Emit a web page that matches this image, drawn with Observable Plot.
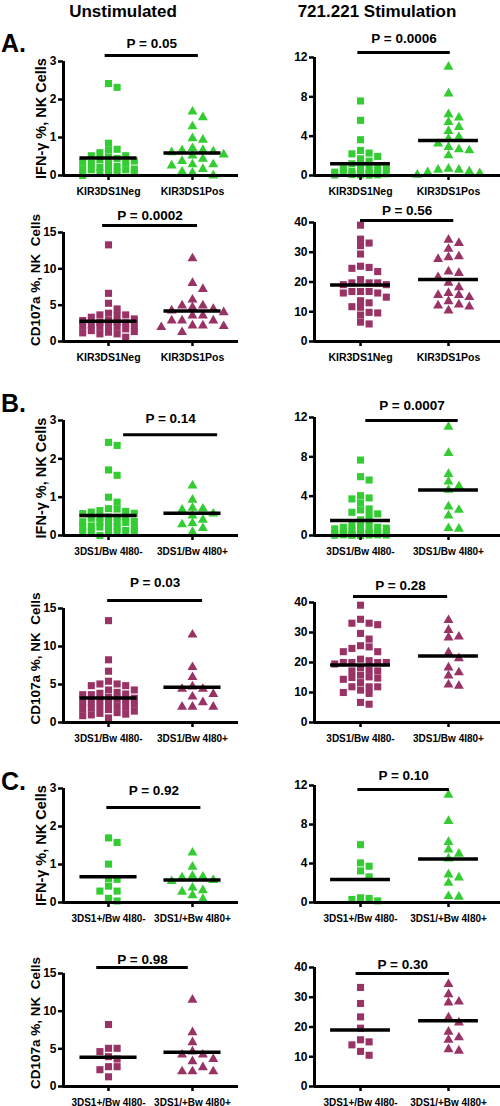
<!DOCTYPE html>
<html>
<head>
<meta charset="utf-8">
<script src="https://cdn.jsdelivr.net/npm/d3@7"></script>
<script src="https://cdn.jsdelivr.net/npm/@observablehq/plot@0.6"></script>
<style>
  html, body { margin: 0; padding: 0; background: white; width: 500px; height: 1106px; overflow: hidden; }
  body { position: relative; font-family: "Liberation Sans", Arial, sans-serif; font-weight: bold; }
  .abs { position: absolute; }
  .hdr { font-size: 17px; line-height: 1; white-space: nowrap; transform: translateX(-50%); }
  .let { font-size: 25px; line-height: 1; }
</style>
</head>
<body>
<div id="root"></div>
<script>
// ---------- data ----------
const columnTitles = ["Unstimulated", "721.221 Stimulation"];
const sectionLetters = ["A.", "B.", "C."];
const labelsA = ["KIR3DS1Neg", "KIR3DS1Pos"];
const labelsB = ["3DS1/Bw 4I80-", "3DS1/Bw 4I80+"];
const labelsC = ["3DS1+/Bw 4I80-", "3DS1/+Bw 4I80+"];
const titleIFN = "IFN-\u03b3 %, NK Cells";
const titleCD = "CD107a %, NK  Cells";
const ticksIFNunstim = [0, 1, 2, 3];
const ticksIFN721 = [0, 4, 8, 12];
const ticksCDunstim = [0, 5, 10, 15];
const ticksCD721 = [0, 10, 20, 30, 40];

// A
const ifnUnstimNegA = [2.42, 2.32, 0.85, 0.69, 0.67, 0.60, 0.52, 0.52, 0.48, 0.45, 0.42, 0.38, 0.35, 0.33, 0.32, 0.31, 0.24, 0.22, 0.17, 0.17, 0.15, 0.15, 0.13, 0.09, 0.07, 0.06, 0.0];
const ifnUnstimPosA = [1.68, 1.53, 1.29, 0.98, 0.94, 0.72, 0.67, 0.66, 0.63, 0.61, 0.55, 0.52, 0.44, 0.38, 0.29, 0.29, 0.26, 0.17, 0.10, 0.07, 0.0];
const ifn721NegA = [7.58, 5.61, 3.64, 2.55, 2.28, 2.2, 1.94, 1.7, 1.46, 1.19, 0.92, 0.92, 0.75, 0.68, 0.68, 0.41, 0.34, 0.34, 0.34, 0.24, 0.24, 0.17, 0.10, 0.07, 0.07, 0.05, 0.03];
const ifn721PosA = [11.05, 8.33, 6.22, 5.88, 5.44, 4.93, 4.52, 3.91, 3.74, 3.23, 2.89, 2.65, 2.55, 2.04, 0.68, 0.58, 0.58, 0.41, 0.34, 0.24, 0.07];
const cdUnstimNegA = [13.3, 6.63, 5.26, 4.48, 3.89, 3.66, 3.66, 3.57, 3.34, 3.11, 2.88, 2.88, 2.65, 2.65, 2.56, 2.29, 2.19, 2.10, 2.10, 1.97, 1.97, 1.74, 1.50, 1.37, 1.28, 1.19, 1.05, 1.05, 0.59];
const cdUnstimPosA = [11.43, 8.05, 7.22, 5.76, 4.94, 4.94, 4.71, 4.48, 4.25, 4.02, 3.57, 3.57, 2.88, 2.88, 2.88, 2.19, 2.19, 2.10, 1.97, 1.28];
const cd721NegA = [39.1, 34.4, 33.1, 32.2, 29.4, 25.3, 24.9, 24.6, 23.5, 20.8, 19.7, 19.7, 19.7, 19.1, 19.1, 16.8, 16.8, 16.8, 16.3, 16.3, 14.9, 13.7, 13.0, 11.7, 11.5, 9.8, 9.6, 8.9, 6.5, 5.9];
const cd721PosA = [34.2, 33.1, 31.1, 28.6, 28.3, 27.7, 23.5, 23.0, 21.6, 19.7, 18.2, 16.3, 15.6, 15.6, 14.9, 13.5, 12.4, 12.1, 11.7, 10.4];
// B
const ifnUnstimNegB = [2.43, 2.35, 1.71, 1.57, 1.00, 0.87, 0.70, 0.69, 0.65, 0.63, 0.61, 0.58, 0.57, 0.48, 0.47, 0.46, 0.46, 0.45, 0.37, 0.36, 0.36, 0.35, 0.35, 0.34, 0.25, 0.24, 0.24, 0.23, 0.23, 0.22, 0.13, 0.12, 0.12, 0.11, 0.11, 0.10, 0.0];
const ifnUnstimPosB = [1.30, 0.93, 0.72, 0.70, 0.67, 0.57, 0.52, 0.41, 0.32, 0.29, 0.19, 0.09];
const ifn721NegB = [7.67, 5.98, 5.64, 4.05, 3.82, 3.72, 3.31, 2.70, 2.60, 2.36, 2.20, 2.03, 1.59, 1.35, 1.0, 0.91, 0.84, 0.84, 0.74, 0.68, 0.68, 0.44, 0.41, 0.34, 0.34, 0.34, 0.24, 0.17, 0.10, 0.07, 0.07, 0.07, 0.05, 0.05, 0.03, 0.02, 0.0];
const ifn721PosB = [11.05, 8.38, 6.25, 5.47, 5.0, 4.63, 2.94, 2.6, 2.03, 0.74, 0.68];
const cdUnstimNegB = [13.4, 8.25, 6.75, 5.43, 5.07, 5.07, 4.85, 4.85, 4.28, 4.28, 3.97, 3.84, 3.75, 3.66, 3.66, 3.3, 3.2, 3.1, 3.0, 2.9, 2.7, 2.6, 2.5, 2.4, 2.2, 2.1, 2.0, 1.9, 1.8, 1.7, 1.5, 1.3, 1.2, 1.1, 1.0, 0.9, 0.6];
const cdUnstimPosB = [11.56, 7.28, 5.96, 4.72, 4.41, 4.41, 3.75, 3.40, 2.65, 2.07, 2.07, 2.07];
const cd721NegB = [39.1, 34.4, 33.1, 33.1, 32.6, 29.7, 27.8, 25.6, 25.2, 24.7, 23.6, 23.6, 21.1, 20.6, 20.0, 20.0, 20.0, 20.0, 19.5, 18.3, 17.4, 17.2, 17.2, 15.8, 15.2, 15.0, 14.8, 14.4, 13.3, 11.9, 11.9, 11.9, 10.8, 10.0, 9.7, 6.7, 6.1];
const cd721PosB = [34.1, 30.8, 28.6, 28.3, 23.3, 21.4, 18.3, 16.7, 15.6, 12.6, 12.2];
// C
const ifnUnstimNegC = [1.70, 1.58, 1.01, 0.63, 0.61, 0.43, 0.30, 0.30, 0.11, 0.04];
const ifnUnstimPosC = [1.31, 0.94, 0.70, 0.68, 0.66, 0.59, 0.56, 0.39, 0.32, 0.28, 0.19, 0.09];
const ifn721NegC = [5.93, 4.06, 3.72, 3.24, 2.63, 0.48, 0.41, 0.31, 0.17];
const ifn721PosC = [11.05, 8.35, 6.2, 5.42, 5.0, 4.5, 2.86, 2.56, 2.01, 0.65, 0.58];
const cdUnstimNegC = [8.23, 5.07, 5.07, 4.63, 3.96, 3.65, 2.63, 2.63, 2.23, 1.29];
const cdUnstimPosC = [11.5, 7.2, 5.87, 4.63, 4.23, 4.23, 3.65, 3.34, 2.54, 2.0, 2.0, 2.0];
const cd721NegC = [33.3, 27.9, 23.4, 19.6, 15.7, 15.0, 14.0, 11.8, 10.5];
const cd721PosC = [34.4, 31.0, 28.5, 28.2, 23.2, 21.5, 18.4, 16.5, 15.7, 12.5, 12.0];

// per-panel statistics (panel order: A-left-top, A-right-top, A-left-bottom, ... C-right-bottom)
const meanNeg = [0.46, 1.19, 2.79, 19.0, 0.52, 1.52, 3.22, 19.2, 0.68, 2.35, 3.87, 19.0];
const meanPos = [0.59, 3.57, 4.21, 20.8, 0.58, 4.63, 4.63, 22.2, 0.59, 4.47, 4.54, 22.1];
const pValues = ["P = 0.05", "P = 0.0006", "P = 0.0002", "P = 0.56", "P = 0.14", "P = 0.0007", "P = 0.03", "P = 0.28", "P = 0.92", "P = 0.10", "P = 0.98", "P = 0.30"];
const barY = [3.16, 12.5, 15.96, 40.7, 2.63, 11.7, 16.05, 42, 2.5, 11.6, 15.8, 38];
const barX1 = [-0.04, -0.03, -0.07, 0.0, 0.18, 0.06, -0.01, -0.08, -0.02, -0.03, -0.14, -0.05];
const barX2 = [1.07, 1.02, 1.06, 1.06, 1.30, 1.11, 1.12, 0.99, 1.10, 1.01, 0.95, 1.01];
const pLabelY = [3.46, 13.9, 17.3, 44.0, 3.05, 13.2, 18.4, 45.7, 2.95, 13.0, 16.9, 41.0];

// ---------- layout ----------
const GREEN = "#33cc33", PURPLE = "#993366";
const rows = [
  {top: 28, height: 172, mB: 25, mT: [33, 29]},
  {top: 200, height: 175, mB: 34, mT: [32, 22]},
  {top: 388, height: 172, mB: 25, mT: [32, 29]},
  {top: 566, height: 184, mB: 28, mT: [42, 36]},
  {top: 762, height: 168, mB: 28, mT: [26, 23]},
  {top: 935, height: 171, mB: 20, mT: [38, 32]}
];
const cols = [
  {left: 0, mL: 63, mR: 12, xMin: -0.536, xMax: 1.548},
  {left: 250, mL: 64, mR: 0, xMin: -0.523, xMax: 1.591}
];

const panels = [
  {neg: ifnUnstimNegA, pos: ifnUnstimPosA, labels: labelsA, ticks: ticksIFNunstim, title: titleIFN, color: GREEN, lfs: 10.5},
  {neg: ifn721NegA, pos: ifn721PosA, labels: labelsA, ticks: ticksIFN721, title: null, color: GREEN, lfs: 10.5},
  {neg: cdUnstimNegA, pos: cdUnstimPosA, labels: labelsA, ticks: ticksCDunstim, title: titleCD, color: PURPLE, lfs: 10.5},
  {neg: cd721NegA, pos: cd721PosA, labels: labelsA, ticks: ticksCD721, title: null, color: PURPLE, lfs: 10.5},
  {neg: ifnUnstimNegB, pos: ifnUnstimPosB, labels: labelsB, ticks: ticksIFNunstim, title: titleIFN, color: GREEN, lfs: 10},
  {neg: ifn721NegB, pos: ifn721PosB, labels: labelsB, ticks: ticksIFN721, title: null, color: GREEN, lfs: 10},
  {neg: cdUnstimNegB, pos: cdUnstimPosB, labels: labelsB, ticks: ticksCDunstim, title: titleCD, color: PURPLE, lfs: 10},
  {neg: cd721NegB, pos: cd721PosB, labels: labelsB, ticks: ticksCD721, title: null, color: PURPLE, lfs: 10},
  {neg: ifnUnstimNegC, pos: ifnUnstimPosC, labels: labelsC, ticks: ticksIFNunstim, title: titleIFN, color: GREEN, lfs: 10},
  {neg: ifn721NegC, pos: ifn721PosC, labels: labelsC, ticks: ticksIFN721, title: null, color: GREEN, lfs: 10},
  {neg: cdUnstimNegC, pos: cdUnstimPosC, labels: labelsC, ticks: ticksCDunstim, title: titleCD, color: PURPLE, lfs: 10},
  {neg: cd721NegC, pos: cd721PosC, labels: labelsC, ticks: ticksCD721, title: null, color: PURPLE, lfs: 10}
];

// deterministic column scatter (Prism-like): points at similar heights spread into columns
function swarm(values, cat, kY, kX, colPx, gap, maxCol) {
  const sorted = values.slice().sort((a, b) => b - a);
  const placed = [];
  const cands = [0];
  for (let c = 1; c <= maxCol; c++) { cands.push(c, -c); }
  return sorted.map(v => {
    const py = v * kY;
    let best = null, bestD = -1;
    for (const c of cands) {
      const ds = placed.filter(p => p.c === c).map(p => Math.abs(p.py - py));
      const d = ds.length ? Math.min(...ds) : Infinity;
      if (d >= gap) { best = c; break; }
      if (d > bestD) { bestD = d; best = c; }
    }
    placed.push({c: best, py});
    return {x: cat + best * colPx / kX, y: v};
  });
}

function addDiv(cls, text, left, top) {
  const d = document.createElement("div");
  d.className = "abs " + cls;
  d.textContent = text;
  d.style.left = left + "px";
  d.style.top = top + "px";
  document.body.appendChild(d);
}
addDiv("hdr", columnTitles[0], 123, 3);
addDiv("hdr", columnTitles[1], 377, 3);
addDiv("let", sectionLetters[0], 1, 31);
addDiv("let", sectionLetters[1], 1, 391);
addDiv("let", sectionLetters[2], 1, 769);

panels.forEach((p, i) => {
  const row = rows[Math.floor(i / 2)], col = cols[i % 2];
  const yMax = p.ticks[p.ticks.length - 1];
  const mT = row.mT[i % 2];
  const plotH = row.height - mT - row.mB;
  const kY = plotH / yMax;
  const kX = (250 - col.mL - col.mR) / (col.xMax - col.xMin);
  const negPts = swarm(p.neg, 0, kY, kX, 8.6, 6.5, 3);
  const posPts = swarm(p.pos, 1, kY, kX, 10.4, 7.5, 3);
  const means = [{m: meanNeg[i], c: 0}, {m: meanPos[i], c: 1}];
  const hw = 0.34;
  const marks = [
    Plot.dot(negPts, {x: "x", y: "y", symbol: "square", r: 4, fill: p.color}),
    Plot.dot(posPts, {x: "x", y: "y", symbol: "triangle", r: 3.7, fill: p.color}),
    Plot.ruleY(means, {y: "m", x1: d => d.c - hw, x2: d => d.c + hw, stroke: "black", strokeWidth: 3.5}),
    Plot.ruleX([col.xMin], {y1: 0, y2: yMax, stroke: "black", strokeWidth: 3}),
    Plot.ruleY([0], {x1: col.xMin, x2: col.xMax, stroke: "black", strokeWidth: 3}),
    Plot.axisY({ticks: p.ticks, tickFormat: d => String(d), tickSize: 5, tickPadding: 2, strokeWidth: 2.5, fontSize: 12, fontWeight: "bold", label: null}),
    Plot.axisX({ticks: [0, 1], tickFormat: d => p.labels[d], tickSize: 5, tickPadding: 7, strokeWidth: 2.5, fontSize: p.lfs, fontWeight: "bold", label: null}),
    Plot.ruleY([barY[i]], {x1: barX1[i], x2: barX2[i], stroke: "black", strokeWidth: 3}),
    Plot.text([pValues[i]], {x: (barX1[i] + barX2[i]) / 2, y: pLabelY[i], fontSize: 13.5, fontWeight: "bold", fill: "black"})
  ];
  if (p.title) {
    const isCD = p.title === titleCD;
    marks.push(Plot.text([p.title], {frameAnchor: "left", textAnchor: "middle", lineAnchor: "middle", rotate: -90, dx: isCD ? -28 : -22, dy: isCD ? -7 : 0, fontSize: isCD ? 13.5 : 14.5, fontWeight: "bold", fill: "black"}));
  }
  const svg = Plot.plot({
    width: 250,
    height: row.height,
    marginLeft: col.mL, marginRight: col.mR, marginTop: mT, marginBottom: row.mB,
    x: {domain: [col.xMin, col.xMax]},
    y: {domain: [0, yMax]},
    style: {background: "transparent", fontFamily: "'Liberation Sans', Arial, sans-serif", color: "black", overflow: "visible"},
    marks
  });
  const holder = document.createElement("div");
  holder.className = "abs";
  holder.style.left = col.left + "px";
  holder.style.top = row.top + "px";
  holder.appendChild(svg);
  document.body.appendChild(holder);
});
</script>
</body>
</html>
